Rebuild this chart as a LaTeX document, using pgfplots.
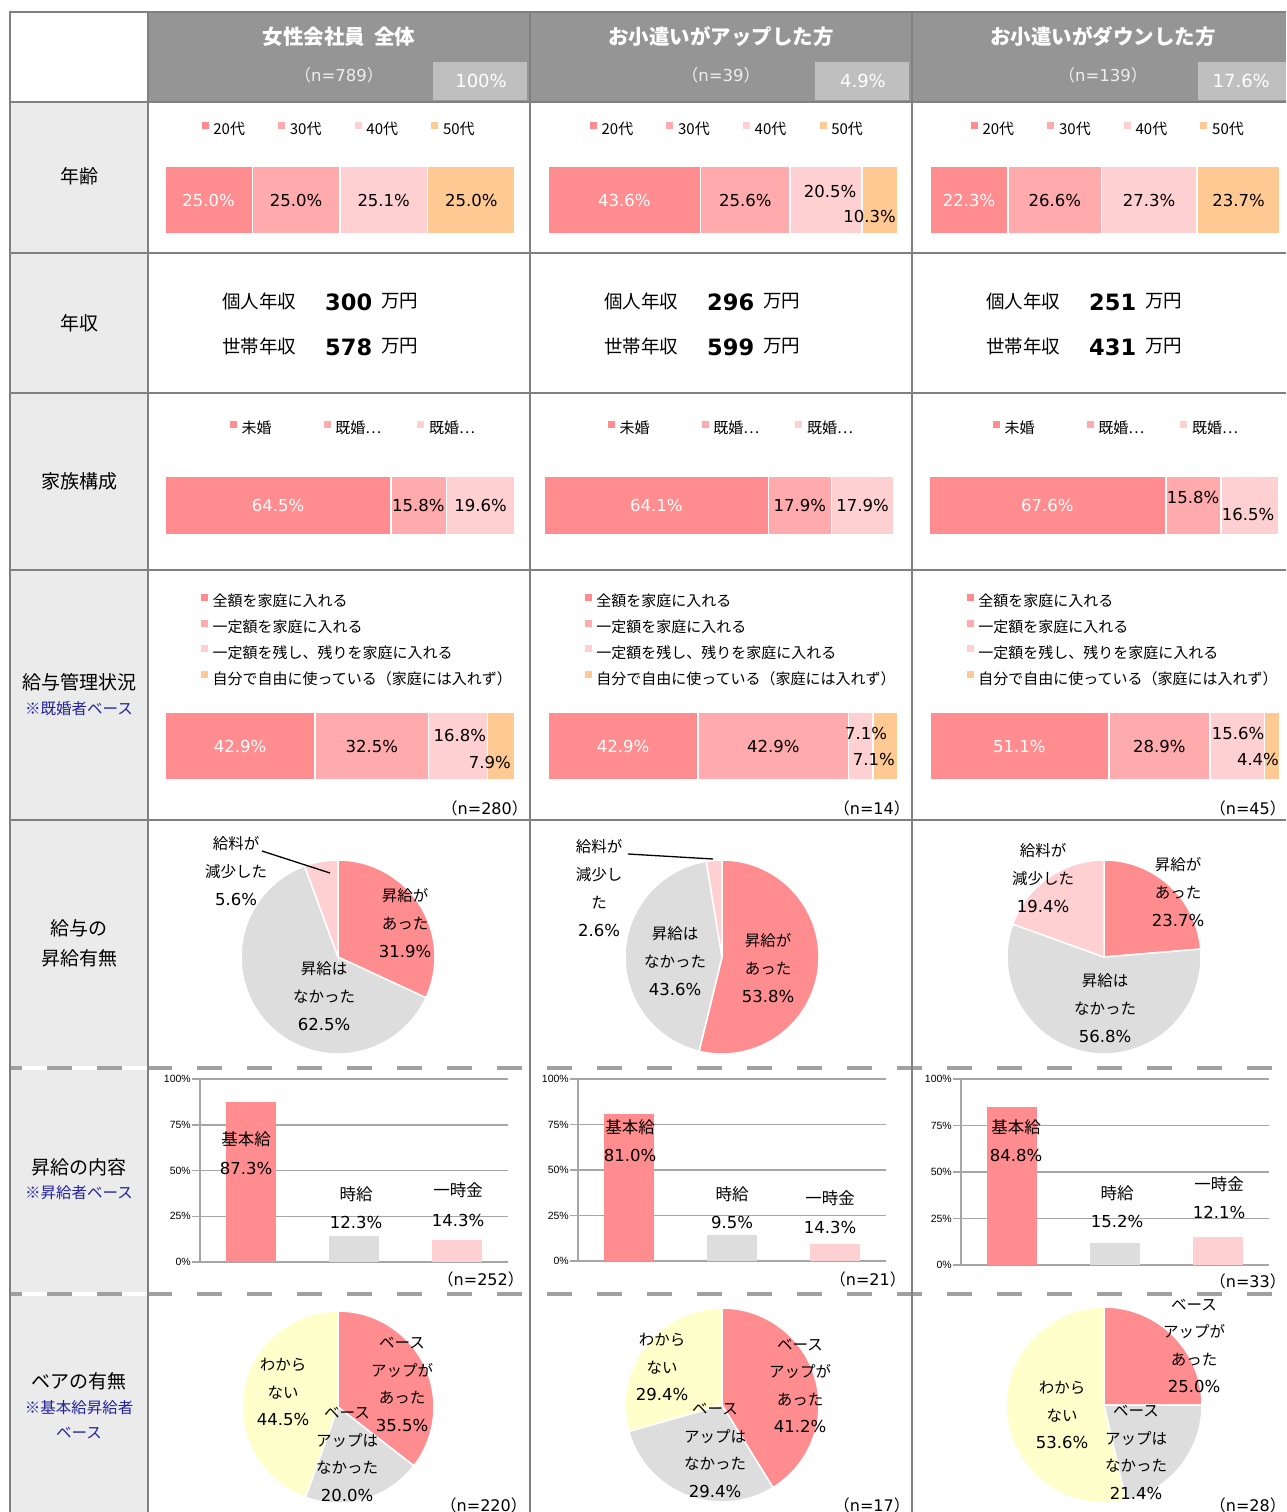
\documentclass[border=0pt]{standalone}
\usepackage{pgfplots}
\pgfplotsset{compat=1.18}
\usepackage{fontspec}
\setmainfont{DejaVu Sans}
\newfontfamily\jp{Noto Sans CJK JP}
\newfontfamily\lib{Liberation Sans}
\definecolor{cA}{HTML}{FF8C8F}
\definecolor{cB}{HTML}{FFABAD}
\definecolor{cC}{HTML}{FFD0D1}
\definecolor{cD}{HTML}{FFC993}
\definecolor{cG}{HTML}{DDDDDD}
\definecolor{cY}{HTML}{FFFFCC}
\definecolor{hdr}{HTML}{959595}
\definecolor{hbox}{HTML}{BFBFBF}
\definecolor{lcol}{HTML}{EBEBEB}
\definecolor{gridc}{HTML}{808080}
\definecolor{dashc}{HTML}{A0A0A0}
\definecolor{navy}{HTML}{2222A0}
\definecolor{nlt}{HTML}{EEEEEE}
\tikzset{
 lbl/.style={font=\jp\fontsize{19}{22}\selectfont, inner sep=0pt},
 nav/.style={font=\jp\fontsize{15.5}{18}\selectfont, text=navy, inner sep=0pt},
 pct/.style={font=\fontsize{16.5}{20}\selectfont, inner sep=0pt},
 jtx/.style={font=\jp\fontsize{15.5}{28}\selectfont, align=center, inner sep=0pt},
 jty/.style={font=\jp\fontsize{15.5}{27.5}\selectfont, align=center, inner sep=0pt},
 jbl/.style={font=\jp\fontsize{16.5}{20}\selectfont, inner sep=0pt},
 nn/.style={font=\fontsize{16}{18}\selectfont, inner sep=0pt, anchor=east},
}
\newcommand\pc[1]{{\normalfont\fontsize{16.5}{28}\selectfont #1\%}}
\newcommand\nl[1]{{\jp （}n=#1{\jp ）}}
\newcommand\slice[6]{%
 \fill[#6, draw=white, line width=1.5pt] (axis cs:#1,-#2) -- (axis cs:{#1+#3*cos(90-3.6*#4)},{-#2+#3*sin(90-3.6*#4)}) arc[start angle={90-3.6*#4}, end angle={90-3.6*#5}, radius=#3pt] -- cycle;}
\pgfplotsset{
 sbar/.style={xbar stacked, reverse stacked plots=false, hide axis, scale only axis, anchor=north west, width=350pt, height=#1, bar width=#1, ymin=-0.5, ymax=0.5, xmin=0, enlargelimits=false, clip=false,
   legend cell align=left,
   legend style={draw=none, fill=none, inner sep=0pt, font=\jp\fontsize{15}{17}\selectfont, nodes={inner sep=2.5pt}},
   legend image code/.code={\fill[##1, draw=none] (0pt,0.5pt) rectangle (7pt,7.5pt); \path (8.5pt,0pt);}},
 seg/.style={fill=#1, draw=white, line width=1.5pt},
 vbar/.style={anchor=south west, scale only axis, width=308pt, height=#1, xmin=-0.5, xmax=2.5, ymin=0, ymax=100,
   ytick={0,25,50,75,100}, yticklabels={0\%,25\%,50\%,75\%,100\%}, xtick=\empty,
   axis lines*=left, axis line style={draw=gray!70, line width=1.5pt},
   ymajorgrids, grid style={gray!70, line width=1.5pt}, tick style={gray!70, line width=1.5pt},
   major tick length=8pt, tick align=outside,
   yticklabel style={font=\lib\fontsize{10.5}{12}\selectfont, inner sep=1pt},
   ybar, bar width=50pt, bar shift=0pt, clip=false},
}
\begin{document}
\begin{tikzpicture}[x=1pt,y=1pt]
\useasboundingbox (0,0) rectangle (1286,-1512);
% backgrounds
\fill[hdr] (148,-12) rectangle (1286,-102);
\fill[lcol] (10,-102) rectangle (148,-1512);
\fill[hbox] (433,-62) rectangle (527,-100);
\fill[hbox] (815,-62) rectangle (909,-100);
\fill[hbox] (1198,-62) rectangle (1286,-100);
% dashed separators
\draw[white, line width=4pt] (10,-1068) -- (148,-1068);
\draw[white, line width=4pt] (10,-1294) -- (148,-1294);
\draw[dashc, line width=4pt, dash pattern=on 25pt off 25pt, dash phase=13pt] (10,-1068) -- (1286,-1068);
\draw[dashc, line width=4pt, dash pattern=on 25pt off 25pt, dash phase=13pt] (10,-1294) -- (1286,-1294);
% solid grid
\draw[gridc, line width=2.5pt] (10,-1512) -- (10,-12) -- (1286,-12);
\foreach \yy in {102,253,393,570,820} \draw[gridc, line width=2.5pt] (10,-\yy) -- (1286,-\yy);
\foreach \xx in {148,530,912} \draw[gridc, line width=2.5pt] (\xx,-12) -- (\xx,-1512);

% ===== Age =====
\begin{axis}[sbar=68pt, at={(165pt,-166pt)}, xmax=100.1, legend columns=4,
  legend style={at={(0.104,1.544)}, anchor=west, /tikz/every even column/.append style={column sep=26.3pt}}]
\addplot[seg=cA] coordinates {(25.0,0)}; \addlegendentry{\makebox[36pt][l]{20代}}
\addplot[seg=cB] coordinates {(25.0,0)}; \addlegendentry{\makebox[36pt][l]{30代}}
\addplot[seg=cC] coordinates {(25.1,0)}; \addlegendentry{\makebox[36pt][l]{40代}}
\addplot[seg=cD] coordinates {(25.0,0)}; \addlegendentry{\makebox[36pt][l]{50代}}
\node[pct, white] at (axis cs:12.5,0) {25.0\%};
\node[pct] at (axis cs:37.5,0) {25.0\%};
\node[pct] at (axis cs:62.55,0) {25.1\%};
\node[pct] at (axis cs:87.6,0) {25.0\%};
\end{axis}
\begin{axis}[sbar=68pt, at={(548pt,-166pt)}, xmax=100, legend columns=4,
  legend style={at={(0.119,1.544)}, anchor=west, /tikz/every even column/.append style={column sep=26.3pt}}]
\addplot[seg=cA] coordinates {(43.6,0)}; \addlegendentry{\makebox[36pt][l]{20代}}
\addplot[seg=cB] coordinates {(25.6,0)}; \addlegendentry{\makebox[36pt][l]{30代}}
\addplot[seg=cC] coordinates {(20.5,0)}; \addlegendentry{\makebox[36pt][l]{40代}}
\addplot[seg=cD] coordinates {(10.3,0)}; \addlegendentry{\makebox[36pt][l]{50代}}
\node[pct, white] at (axis cs:21.8,0) {43.6\%};
\node[pct] at (axis cs:56.4,0) {25.6\%};
\node[pct, yshift=9pt] at (axis cs:80.6,0) {20.5\%};
\node[pct, yshift=-16pt, anchor=east] at (axis cs:99.4,0) {10.3\%};
\end{axis}
\begin{axis}[sbar=68pt, at={(930pt,-166pt)}, xmax=99.9, legend columns=4,
  legend style={at={(0.116,1.544)}, anchor=west, /tikz/every even column/.append style={column sep=26.3pt}}]
\addplot[seg=cA] coordinates {(22.3,0)}; \addlegendentry{\makebox[36pt][l]{20代}}
\addplot[seg=cB] coordinates {(26.6,0)}; \addlegendentry{\makebox[36pt][l]{30代}}
\addplot[seg=cC] coordinates {(27.3,0)}; \addlegendentry{\makebox[36pt][l]{40代}}
\addplot[seg=cD] coordinates {(23.7,0)}; \addlegendentry{\makebox[36pt][l]{50代}}
\node[pct, white] at (axis cs:11.15,0) {22.3\%};
\node[pct] at (axis cs:35.6,0) {26.6\%};
\node[pct] at (axis cs:62.55,0) {27.3\%};
\node[pct] at (axis cs:88.05,0) {23.7\%};
\end{axis}

% ===== Family =====
\begin{axis}[sbar=59pt, at={(165pt,-476pt)}, xmax=99.9, legend columns=3,
  legend style={at={(0.185,1.81)}, anchor=west, /tikz/every even column/.append style={column sep=24.5pt}}]
\addplot[seg=cA] coordinates {(64.5,0)}; \addlegendentry{\makebox[55pt][l]{未婚}}
\addplot[seg=cB] coordinates {(15.8,0)}; \addlegendentry{\makebox[55pt][l]{既婚…}}
\addplot[seg=cC] coordinates {(19.6,0)}; \addlegendentry{\makebox[55pt][l]{既婚…}}
\node[pct, white] at (axis cs:32.25,0) {64.5\%};
\node[pct] at (axis cs:72.3,0) {15.8\%};
\node[pct] at (axis cs:90.1,0) {19.6\%};
\end{axis}
\begin{axis}[sbar=59pt, at={(544pt,-476pt)}, xmax=99.9, legend columns=3,
  legend style={at={(0.182,1.81)}, anchor=west, /tikz/every even column/.append style={column sep=24.5pt}}]
\addplot[seg=cA] coordinates {(64.1,0)}; \addlegendentry{\makebox[55pt][l]{未婚}}
\addplot[seg=cB] coordinates {(17.9,0)}; \addlegendentry{\makebox[55pt][l]{既婚…}}
\addplot[seg=cC] coordinates {(17.9,0)}; \addlegendentry{\makebox[55pt][l]{既婚…}}
\node[pct, white] at (axis cs:32.05,0) {64.1\%};
\node[pct] at (axis cs:73.05,0) {17.9\%};
\node[pct] at (axis cs:90.95,0) {17.9\%};
\end{axis}
\begin{axis}[sbar=59pt, at={(929pt,-476pt)}, xmax=99.9, legend columns=3,
  legend style={at={(0.182,1.81)}, anchor=west, /tikz/every even column/.append style={column sep=24.5pt}}]
\addplot[seg=cA] coordinates {(67.6,0)}; \addlegendentry{\makebox[55pt][l]{未婚}}
\addplot[seg=cB] coordinates {(15.8,0)}; \addlegendentry{\makebox[55pt][l]{既婚…}}
\addplot[seg=cC] coordinates {(16.5,0)}; \addlegendentry{\makebox[55pt][l]{既婚…}}
\node[pct, white] at (axis cs:33.8,0) {67.6\%};
\node[pct, yshift=8.5pt] at (axis cs:75.4,0) {15.8\%};
\node[pct, yshift=-8.5pt] at (axis cs:91.1,0) {16.5\%};
\end{axis}

% ===== Salary management =====
\begin{axis}[sbar=68pt, at={(165pt,-712pt)}, xmax=100.1, legend columns=1,
  legend style={at={(0.102,2.77)}, anchor=north west, row sep=6.6pt}]
\addplot[seg=cA] coordinates {(42.9,0)}; \addlegendentry{全額を家庭に入れる}
\addplot[seg=cB] coordinates {(32.5,0)}; \addlegendentry{一定額を家庭に入れる}
\addplot[seg=cC] coordinates {(16.8,0)}; \addlegendentry{一定額を残し、残りを家庭に入れる}
\addplot[seg=cD] coordinates {(7.9,0)}; \addlegendentry{自分で自由に使っている（家庭には入れず）}
\node[pct, white] at (axis cs:21.45,0) {42.9\%};
\node[pct] at (axis cs:59.15,0) {32.5\%};
\node[pct, yshift=11pt] at (axis cs:84.3,0) {16.8\%};
\node[pct, yshift=-16pt] at (axis cs:92.9,0) {7.9\%};
\end{axis}
\begin{axis}[sbar=68pt, at={(548pt,-712pt)}, xmax=100, legend columns=1,
  legend style={at={(0.104,2.77)}, anchor=north west, row sep=6.6pt}]
\addplot[seg=cA] coordinates {(42.9,0)}; \addlegendentry{全額を家庭に入れる}
\addplot[seg=cB] coordinates {(42.9,0)}; \addlegendentry{一定額を家庭に入れる}
\addplot[seg=cC] coordinates {(7.1,0)}; \addlegendentry{一定額を残し、残りを家庭に入れる}
\addplot[seg=cD] coordinates {(7.1,0)}; \addlegendentry{自分で自由に使っている（家庭には入れず）}
\node[pct, white] at (axis cs:21.45,0) {42.9\%};
\node[pct] at (axis cs:64.35,0) {42.9\%};
\node[pct, yshift=13pt] at (axis cs:90.9,0) {7.1\%};
\node[pct, yshift=-13pt] at (axis cs:93.1,0) {7.1\%};
\end{axis}
\begin{axis}[sbar=68pt, at={(930pt,-712pt)}, xmax=100, legend columns=1,
  legend style={at={(0.104,2.77)}, anchor=north west, row sep=6.6pt}]
\addplot[seg=cA] coordinates {(51.1,0)}; \addlegendentry{全額を家庭に入れる}
\addplot[seg=cB] coordinates {(28.9,0)}; \addlegendentry{一定額を家庭に入れる}
\addplot[seg=cC] coordinates {(15.6,0)}; \addlegendentry{一定額を残し、残りを家庭に入れる}
\addplot[seg=cD] coordinates {(4.4,0)}; \addlegendentry{自分で自由に使っている（家庭には入れず）}
\node[pct, white] at (axis cs:25.55,0) {51.1\%};
\node[pct] at (axis cs:65.55,0) {28.9\%};
\node[pct, yshift=13pt] at (axis cs:88,0) {15.6\%};
\node[pct, yshift=-13pt] at (axis cs:93.7,0) {4.4\%};
\end{axis}

% ===== Raise content bars =====
\begin{axis}[vbar=183pt, at={(200pt,-1262pt)}]
\addplot[fill=cA, draw=none] coordinates {(0,87.3)};
\addplot[fill=cG, draw=none] coordinates {(1,14.3)};
\addplot[fill=cC, draw=none] coordinates {(2,12.3)};
\end{axis}
\begin{axis}[vbar=182pt, at={(578pt,-1261pt)}]
\addplot[fill=cA, draw=none] coordinates {(0,81.0)};
\addplot[fill=cG, draw=none] coordinates {(1,14.3)};
\addplot[fill=cC, draw=none] coordinates {(2,9.5)};
\end{axis}
\begin{axis}[vbar=186pt, at={(961pt,-1265pt)}]
\addplot[fill=cA, draw=none] coordinates {(0,84.8)};
\addplot[fill=cG, draw=none] coordinates {(1,12.1)};
\addplot[fill=cC, draw=none] coordinates {(2,15.2)};
\end{axis}

% ===== Pies =====
\begin{axis}[at={(0pt,0pt)}, anchor=north west, scale only axis, width=1286pt, height=1512pt,
  xmin=0, xmax=1286, ymin=-1512, ymax=0, hide axis, clip=false]
\slice{338}{957}{97}{0}{31.9}{cA}
\slice{338}{957}{97}{31.9}{94.4}{cG}
\slice{338}{957}{97}{94.4}{100}{cC}
\slice{722}{957}{97}{0}{53.8}{cA}
\slice{722}{957}{97}{53.8}{97.4}{cG}
\slice{722}{957}{97}{97.4}{100}{cC}
\slice{1104}{957}{97}{0}{23.7}{cA}
\slice{1104}{957}{97}{23.7}{80.5}{cG}
\slice{1104}{957}{97}{80.5}{100}{cC}
\draw[black, line width=1.3pt] (axis cs:262,-851) -- (axis cs:330,-873);
\draw[black, line width=1.3pt] (axis cs:628,-854) -- (axis cs:713,-859);
\slice{338}{1407}{96}{0}{35.5}{cA}
\slice{338}{1407}{96}{35.5}{55.5}{cG}
\slice{338}{1407}{96}{55.5}{100}{cY}
\slice{722}{1405}{97}{0}{41.2}{cA}
\slice{722}{1405}{97}{41.2}{70.6}{cG}
\slice{722}{1405}{97}{70.6}{100}{cY}
\slice{1104}{1405}{98}{0}{25.0}{cA}
\slice{1104}{1405}{98}{25.0}{46.4}{cG}
\slice{1104}{1405}{98}{46.4}{100}{cY}
\end{axis}

% ===== Header text =====
\foreach \cx/\t/\n/\p/\pr in {339/女性会社員\hspace{0.45em}全体/789/100/507, 721/お小遣いがアップした方/39/4.9/886, 1103/お小遣いがダウンした方/139/17.6/1270} {
  \node[font=\jp\bfseries\fontsize{20.5}{24}\selectfont, text=white, inner sep=0pt] at (\cx,-37) {\t};
  \node[font=\fontsize{16.5}{20}\selectfont, text=nlt, inner sep=0pt] at (\cx,-75) {\nl{\n}};
  \node[font=\fontsize{18}{20}\selectfont, text=white, inner sep=0pt, anchor=east] at (\pr,-81) {\p\%};
}
% ===== Label column =====
\node[lbl] at (79,-176) {年齢};
\node[lbl] at (79,-323) {年収};
\node[lbl] at (79,-481) {家族構成};
\node[lbl] at (79,-682) {給与管理状況};
\node[nav] at (79,-709) {※既婚者ベース};
\node[lbl] at (79,-928) {給与の};
\node[lbl] at (79,-958) {昇給有無};
\node[lbl] at (79,-1167) {昇給の内容};
\node[nav] at (79,-1193) {※昇給者ベース};
\node[lbl] at (79,-1381) {ベアの有無};
\node[nav] at (79,-1408) {※基本給昇給者};
\node[nav] at (79,-1433) {ベース};
% ===== Income =====
\foreach \dx/\a/\b in {0/300/578, 382/296/599, 764/251/431} {
  \node[anchor=west, font=\jp\fontsize{18.5}{20}\selectfont, inner sep=0pt] at (222+\dx,-301) {個人年収};
  \node[anchor=west, font=\jp\fontsize{18.5}{20}\selectfont, inner sep=0pt] at (222+\dx,-346) {世帯年収};
  \node[anchor=west, font=\bfseries\fontsize{22.5}{24}\selectfont, inner sep=0pt] at (325+\dx,-302) {\a};
  \node[anchor=west, font=\bfseries\fontsize{22.5}{24}\selectfont, inner sep=0pt] at (325+\dx,-347) {\b};
  \node[anchor=west, font=\jp\fontsize{18.5}{20}\selectfont, inner sep=0pt] at (381+\dx,-301) {万円};
  \node[anchor=west, font=\jp\fontsize{18.5}{20}\selectfont, inner sep=0pt] at (381+\dx,-346) {万円};
}
% ===== n labels =====
\node[nn] at (528,-808) {\nl{280}};
\node[nn] at (910,-808) {\nl{14}};
\node[nn] at (1286,-808) {\nl{45}};
\node[nn] at (524,-1279) {\nl{252}};
\node[nn] at (906,-1279) {\nl{21}};
\node[nn] at (1286,-1281) {\nl{33}};
\node[nn] at (527,-1505) {\nl{220}};
\node[nn] at (910,-1505) {\nl{17}};
\node[nn] at (1286,-1505) {\nl{28}};
% ===== Pie labels (raise) =====
\node[jtx] at (405,-923) {昇給が\\あった\\\pc{31.9}};
\node[jtx] at (324,-996) {昇給は\\なかった\\\pc{62.5}};
\node[jtx] at (236,-871) {給料が\\減少した\\\pc{5.6}};
\node[jtx] at (768,-968) {昇給が\\あった\\\pc{53.8}};
\node[jtx] at (675,-961) {昇給は\\なかった\\\pc{43.6}};
\node[jtx] at (599,-888.5) {給料が\\減少し\\た\\\pc{2.6}};
\node[jtx] at (1178,-892) {昇給が\\あった\\\pc{23.7}};
\node[jtx] at (1105,-1008) {昇給は\\なかった\\\pc{56.8}};
\node[jtx] at (1043,-878) {給料が\\減少した\\\pc{19.4}};
% ===== Bar labels =====
\foreach \x/\y/\t in {246/1139/基本給, 356/1194/時給, 458/1190/一時金, 630/1127/基本給, 732/1194/時給, 830/1198/一時金, 1016/1127/基本給, 1117/1193/時給, 1219/1184/一時金}
  \node[jbl] at (\x,-\y) {\t};
\foreach \x/\y/\t in {246/1168/87.3, 356/1222/12.3, 458/1220/14.3, 630/1155/81.0, 732/1222/9.5, 830/1227/14.3, 1016/1155/84.8, 1117/1221/15.2, 1219/1212/12.1}
  \node[pct] at (\x,-\y) {\t\%};
% ===== Pie labels (base-up) =====
\node[jty] at (402,-1384.5) {ベース\\アップが\\あった\\\pc{35.5}};
\node[jty] at (347,-1454.5) {ベース\\アップは\\なかった\\\pc{20.0}};
\node[jty] at (283,-1392) {わから\\ない\\\pc{44.5}};
\node[jty] at (800,-1386) {ベース\\アップが\\あった\\\pc{41.2}};
\node[jty] at (715,-1450.5) {ベース\\アップは\\なかった\\\pc{29.4}};
\node[jty] at (662,-1367) {わから\\ない\\\pc{29.4}};
\node[jty] at (1194,-1346) {ベース\\アップが\\あった\\\pc{25.0}};
\node[jty] at (1136,-1452.5) {ベース\\アップは\\なかった\\\pc{21.4}};
\node[jty] at (1062,-1415) {わから\\ない\\\pc{53.6}};
\end{tikzpicture}
\end{document}
